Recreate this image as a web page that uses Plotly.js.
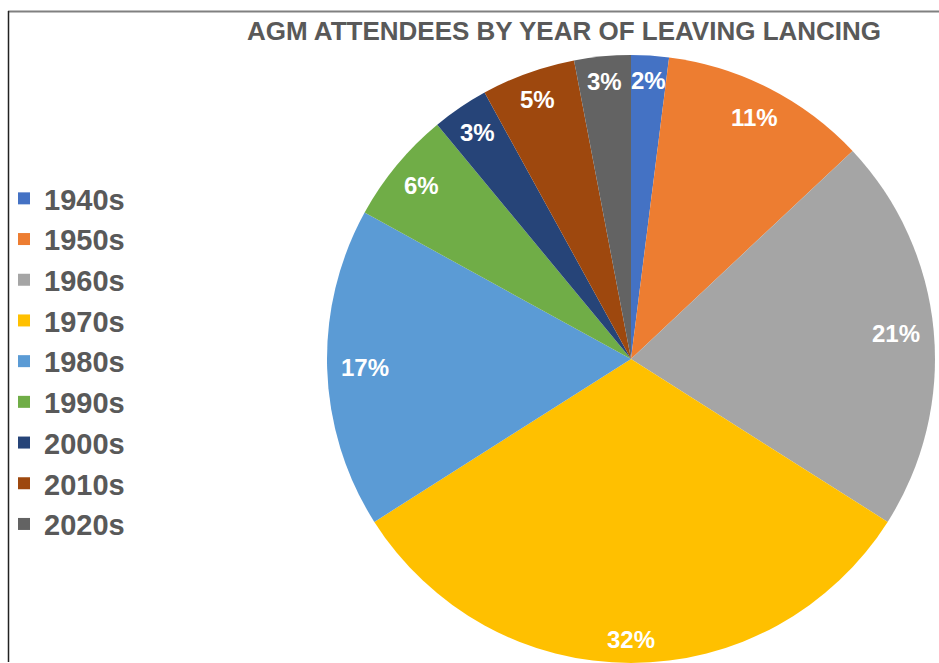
<!DOCTYPE html>
<html>
<head>
<meta charset="utf-8">
<script src="https://cdn.plot.ly/plotly-3.0.1.min.js"></script>
<style>
  html, body { margin: 0; padding: 0; background: #ffffff; overflow: hidden; }
  #chart { width: 939px; height: 663px; }
</style>
</head>
<body>
<div id="chart"></div>
<script>
// ---- data ----
const categories = ["1940s", "1950s", "1960s", "1970s", "1980s", "1990s", "2000s", "2010s", "2020s"];
const shares = [2, 11, 21, 32, 17, 6, 3, 5, 3];
const sliceColors = ["#4472C4", "#ED7D31", "#A5A5A5", "#FFC000", "#5B9BD5", "#70AD47", "#264478", "#9E480E", "#636363"];
const chartTitle = "AGM ATTENDEES BY YEAR OF LEAVING LANCING";

// ---- layout geometry (pixels) ----
const W = 939, H = 663;
const cx = 631, cy = 359, R = 304;
const labelFont = 24, labelPad = 15;

const total = shares.reduce((a, b) => a + b, 0);

// Data labels placed "inside end", computed from the cumulative shares
const annotations = [];
let cum = 0;
shares.forEach((v, i) => {
  const mid = (cum + v / 2) / total * 2 * Math.PI; // clockwise from 12 o'clock
  cum += v;
  const txt = Math.round(v / total * 100) + "%";
  const w = txt.length * 0.62 * labelFont;
  const h = 0.72 * labelFont;
  const ext = Math.abs(Math.sin(mid)) * w / 2 + Math.abs(Math.cos(mid)) * h / 2;
  const rl = R - labelPad - ext;
  const px = cx + rl * Math.sin(mid);
  const py = cy - rl * Math.cos(mid);
  annotations.push({
    text: txt, showarrow: false,
    xref: "paper", yref: "paper",
    x: px / W, y: 1 - py / H,
    xanchor: "center", yanchor: "middle",
    font: { family: "Liberation Sans, Arial, sans-serif", size: labelFont, color: "#ffffff", weight: 700 }
  });
});

const trace = {
  type: "pie",
  labels: categories,
  values: shares,
  sort: false,
  direction: "clockwise",
  rotation: 0,
  textinfo: "none",
  hoverinfo: "none",
  marker: { colors: sliceColors, line: { width: 0 } },
  domain: { x: [(cx - R) / W, (cx + R) / W], y: [Math.max(0, (H - cy - R) / H), (H - cy + R) / H] }
};

const layout = {
  width: W, height: H,
  margin: { l: 0, r: 0, t: 0, b: 0 },
  paper_bgcolor: "#ffffff",
  title: {
    text: chartTitle,
    x: 564 / W, xanchor: "center", xref: "paper",
    y: 1 - 31 / H, yanchor: "middle", yref: "paper",
    font: { family: "Liberation Sans, Arial, sans-serif", size: 26, color: "#595959", weight: 700 }
  },
  showlegend: true,
  legend: {
    x: 4 / W, xanchor: "left",
    y: 1 - 173 / H, yanchor: "top",
    bgcolor: "rgba(0,0,0,0)",
    font: { family: "Liberation Sans, Arial, sans-serif", size: 29, color: "#595959", weight: 700 },
    itemclick: false, itemdoubleclick: false
  },
  annotations: annotations,
  shapes: [
    { type: "line", xref: "paper", yref: "paper", x0: 8 / W, x1: 1, y0: 1 - 11.5 / H, y1: 1 - 11.5 / H,
      line: { color: "#808080", width: 2 } },
    { type: "line", xref: "paper", yref: "paper", x0: 8.5 / W, x1: 8.5 / W, y0: 1 - 11 / H, y1: 1 - 662 / H,
      line: { color: "#222222", width: 1.5 } }
  ]
};

Plotly.newPlot("chart", [trace], layout, { displayModeBar: false, staticPlot: true });
</script>
</body>
</html>
